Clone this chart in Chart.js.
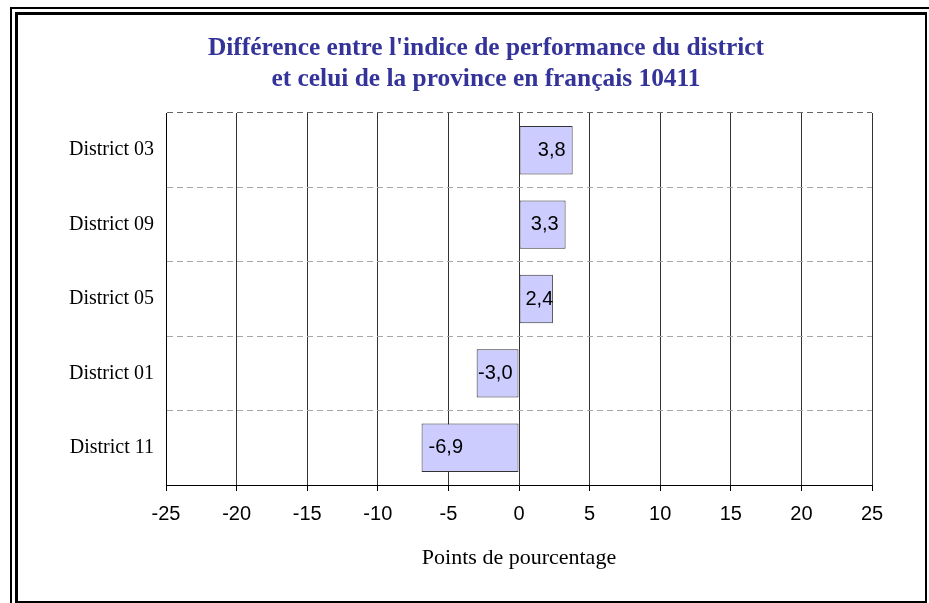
<!DOCTYPE html>
<html>
<head>
<meta charset="utf-8">
<script src="https://cdn.jsdelivr.net/npm/chart.js@4/dist/chart.umd.min.js"></script>
<style>
  html, body { margin: 0; padding: 0; background: #fff; }
  #wrap { position: relative; width: 929px; height: 603px; overflow: hidden; }
  #c { position: absolute; left: 0; top: 0; }
  .frame { position: absolute; pointer-events: none; box-sizing: border-box; }
</style>
</head>
<body>
<div id="wrap">
  <canvas id="c" width="929" height="603"></canvas>
  <div class="frame" style="left:10px;top:7px;width:940px;height:620px;border-left:2px solid #000;border-top:2px solid #000"></div>
  <div class="frame" style="left:15px;top:12px;width:912px;height:591px;border-left:3px solid #000;border-top:3px solid #000;border-right:2px solid #000;border-bottom:2px solid #000"></div>
</div>
<script>
const districts = ['District 03', 'District 09', 'District 05', 'District 01', 'District 11'];
const ecarts = [3.8, 3.3, 2.4, -3.0, -6.9];
const titleLines = ["Différence entre l'indice de performance du district", 'et celui de la province en français 10411'];
const axisTitle = 'Points de pourcentage';

const serif = "'Liberation Serif', 'Times New Roman', serif";
const sans = "'Liberation Sans', Arial, sans-serif";

// the title sits a bit left of the plot centre, as in the original sheet
const chartTitle = {
  id: 'chartTitle',
  afterDraw(chart) {
    const { ctx } = chart;
    ctx.save();
    ctx.font = 'bold 25.4px ' + serif;
    ctx.fillStyle = '#333399';
    ctx.textAlign = 'center';
    ctx.textBaseline = 'alphabetic';
    titleLines.forEach((t, i) => ctx.fillText(t, 486, 55 + i * 31));
    ctx.restore();
  }
};

// labels drawn inside the bars, near the end, kept inside when the bar is short
const barLabels = {
  id: 'barLabels',
  afterDatasetsDraw(chart) {
    const { ctx } = chart;
    const meta = chart.getDatasetMeta(0);
    ctx.save();
    ctx.font = '20px ' + sans;
    ctx.fillStyle = '#000';
    ctx.textBaseline = 'middle';
    ctx.textAlign = 'left';
    meta.data.forEach((el, i) => {
      const v = ecarts[i];
      const txt = v.toFixed(1).replace('.', ',');
      const w = ctx.measureText(txt).width;
      let x;
      if (v >= 0) {
        x = Math.max(el.x - 7 - w, el.base + 6);
      } else {
        x = Math.min(el.x + 7, el.base - 6 - w);
      }
      ctx.fillText(txt, x, el.y);
    });
    ctx.restore();
  }
};

new Chart(document.getElementById('c'), {
  type: 'bar',
  data: {
    labels: districts,
    datasets: [{
      data: ecarts,
      backgroundColor: '#ccccff',
      borderColor: '#333',
      borderWidth: 1,
      borderSkipped: false,
      categoryPercentage: 1,
      barPercentage: 0.65
    }]
  },
  options: {
    indexAxis: 'y',
    responsive: false,
    animation: false,
    devicePixelRatio: 1,
    layout: { padding: { left: 0, right: 57, top: 113, bottom: 0 } },
    plugins: {
      legend: { display: false },
      tooltip: { enabled: false },
      title: { display: false }
    },
    scales: {
      x: {
        min: -25, max: 25,
        afterFit: s => { s.height = 118; },
        ticks: { stepSize: 5, color: '#000', padding: 11, font: { family: sans, size: 20 } },
        grid: { color: '#333', lineWidth: 1, tickLength: 6, tickColor: '#000' },
        border: { color: '#000', width: 1 },
        title: {
          display: true,
          text: axisTitle,
          color: '#000',
          font: { family: serif, size: 22 },
          padding: { top: 0, bottom: 32 }
        }
      },
      y: {
        afterFit: s => { s.width = 166; },
        ticks: { color: '#000', padding: 12, font: { family: serif, size: 20 } },
        grid: {
          offset: true,
          drawTicks: false,
          color: c => c.index === districts.length ? 'rgba(0,0,0,0)' : (c.index === 0 ? '#666' : '#a6a6a6')
        },
        border: { color: '#000', width: 1, dash: [6, 4] }
      }
    }
  },
  plugins: [barLabels, chartTitle]
});
</script>
</body>
</html>
